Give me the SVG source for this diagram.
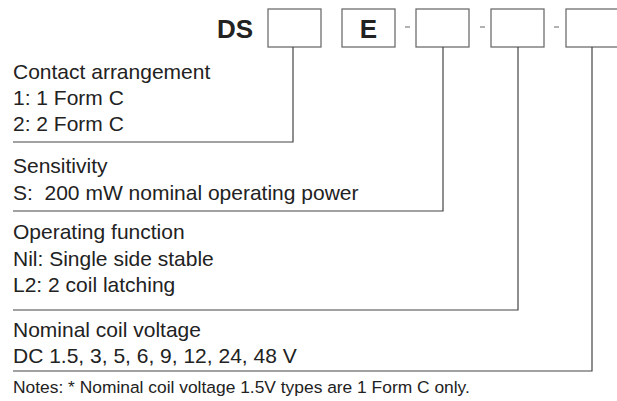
<svg xmlns="http://www.w3.org/2000/svg" width="617" height="401" viewBox="0 0 617 401">
<style>
.t{font-family:"Liberation Sans",Arial,sans-serif;font-size:21px;fill:#222}
.n{font-family:"Liberation Sans",Arial,sans-serif;font-size:17.4px;fill:#222}
.b{font-family:"Liberation Sans",Arial,sans-serif;font-size:26px;font-weight:bold;fill:#222}
.box{fill:#fff;stroke:#6e6e6e;stroke-width:1.3}
.dash{stroke:#888;stroke-width:1.3}
.c{fill:none;stroke:#444;stroke-width:1.2}
</style>
<rect width="617" height="401" fill="#fff"/>
<g id="code">
<text class="b" x="217" y="38">DS</text>
<rect class="box" x="268" y="9" width="53" height="38"/>
<rect class="box" x="342" y="9" width="53" height="38"/>
<text class="b" x="368.5" y="38" text-anchor="middle">E</text>
<line class="dash" x1="405" y1="27" x2="410" y2="27"/>
<rect class="box" x="416" y="9" width="53" height="38"/>
<line class="dash" x1="480" y1="27" x2="485" y2="27"/>
<rect class="box" x="491" y="9" width="53" height="38"/>
<line class="dash" x1="554" y1="27" x2="559" y2="27"/>
<rect class="box" x="566" y="9" width="53" height="38"/>
</g>
<g id="connectors">
<polyline class="c" points="293,47 293,142 13,142"/>
<polyline class="c" points="443,47 443,211 13,211"/>
<polyline class="c" points="518,47 518,310 13,310"/>
<polyline class="c" points="592,47 592,371 13,371"/>
</g>
<g id="contact">
<text class="t" x="13" y="79">Contact arrangement</text>
<text class="t" x="13" y="105">1: 1 Form C</text>
<text class="t" x="13" y="131">2: 2 Form C</text>
</g>
<g id="sensitivity">
<text class="t" x="13" y="173">Sensitivity</text>
<text class="t" x="13" y="200" xml:space="preserve">S:  200 mW nominal operating power</text>
</g>
<g id="function">
<text class="t" x="13" y="239">Operating function</text>
<text class="t" x="13" y="266">Nil: Single side stable</text>
<text class="t" x="13" y="292">L2: 2 coil latching</text>
</g>
<g id="voltage">
<text class="t" x="13" y="337">Nominal coil voltage</text>
<text class="t" x="13" y="363">DC 1.5, 3, 5, 6, 9, 12, 24, 48 V</text>
</g>
<g id="notes">
<text class="n" x="13" y="393">Notes: * Nominal coil voltage 1.5V types are 1 Form C only.</text>
</g>
</svg>
